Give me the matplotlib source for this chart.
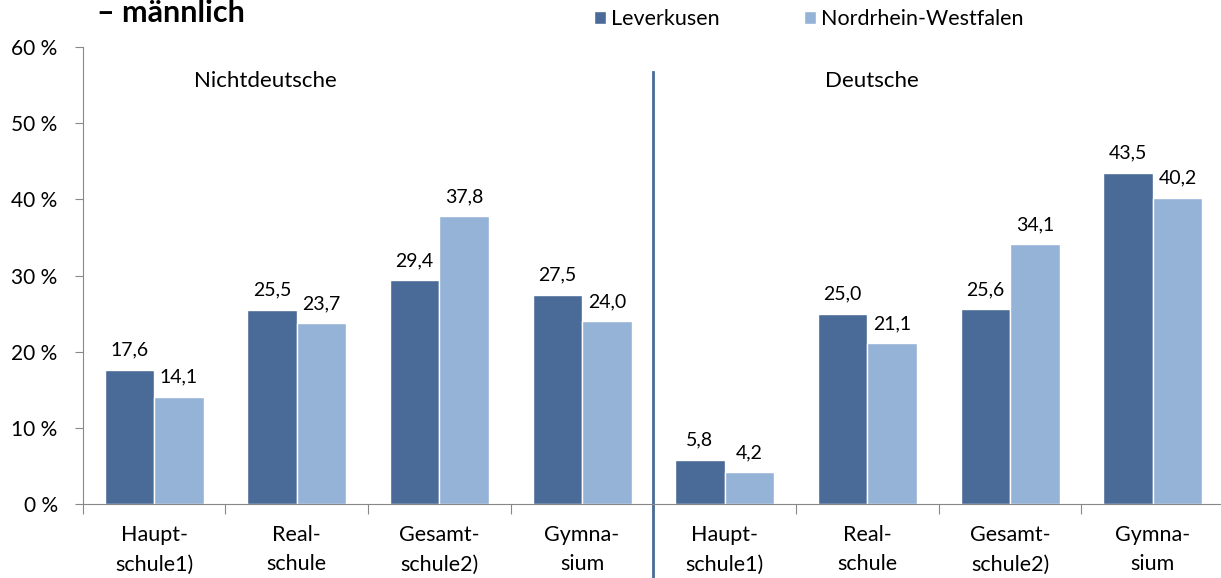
import matplotlib
matplotlib.use("Agg")
import matplotlib.pyplot as plt
import numpy as np

plt.rcParams['font.family'] = ['Lato', 'DejaVu Sans']

categories = ["Haupt-\nschule1)", "Real-\nschule", "Gesamt-\nschule2)", "Gymna-\nsium",
              "Haupt-\nschule1)", "Real-\nschule", "Gesamt-\nschule2)", "Gymna-\nsium"]
leverkusen = [17.6, 25.5, 29.4, 27.5, 5.8, 25.0, 25.6, 43.5]
nrw = [14.1, 23.7, 37.8, 24.0, 4.2, 21.1, 34.1, 40.2]
series_names = ["Leverkusen", "Nordrhein-Westfalen"]
yticks = [0, 10, 20, 30, 40, 50, 60]
group_labels = ["Nichtdeutsche", "Deutsche"]

c_dark = "#4a6b97"
c_light = "#95b3d7"

W, H = 1221, 578
fig = plt.figure(figsize=(W/100, H/100), dpi=100)
left, right, bottom, top = 82.7, 1224, 504, 47
ax = fig.add_axes([left/W, (H-bottom)/H, (right-left)/W, (bottom-top)/H])

x = np.arange(len(categories)) + 0.5
w = 0.347
b1 = ax.bar(x - w/2, leverkusen, w, color=c_dark, edgecolor="white", linewidth=1, label=series_names[0])
b2 = ax.bar(x + w/2, nrw, w, color=c_light, edgecolor="white", linewidth=1, label=series_names[1])

def fmt(v):
    return f"{v:.1f}".replace(".", ",")

for bars, vals in ((b1, leverkusen), (b2, nrw)):
    for r, v in zip(bars, vals):
        ax.annotate(fmt(v), (r.get_x() + r.get_width()/2, v), xytext=(0, 8),
                    textcoords="offset points", ha="center", va="bottom", fontsize=14)

ax.set_xlim(0, 8)
ax.set_ylim(0, 60)
ax.set_yticks(yticks)
ax.set_yticklabels([f"{t} %" for t in yticks], fontsize=15)
ax.set_xticks(np.arange(0, 9))
ax.set_xticklabels([])
ax.set_xticks(x, minor=True)
ax.set_xticklabels(categories, minor=True, fontsize=15.5, linespacing=1.6)
ax.tick_params(axis="x", which="minor", length=0, pad=15)
ax.tick_params(axis="x", which="major", length=7, color="#888888")
ax.tick_params(axis="y", length=6, color="#888888", pad=12)
for s in ("top", "right"):
    ax.spines[s].set_visible(False)
for s in ("left", "bottom"):
    ax.spines[s].set_color("#888888")

ax.plot([4.0, 4.0], [56.7, -9.6], color="#4a6b97", lw=2, clip_on=False)
ax.text(1.28, 55.6, group_labels[0], ha="center", va="center", fontsize=16)
ax.text(5.53, 55.6, group_labels[1], ha="center", va="center", fontsize=16)

fig.text(97/W, 1 - 13/H, "– männlich", fontsize=22, fontweight="bold", ha="left", va="center")

fig.legend(handles=[b1, b2], labels=series_names, loc="center left",
           bbox_to_anchor=(594/W, 1 - 19/H), ncol=2, frameon=False, fontsize=15.5,
           borderpad=0, borderaxespad=0,
           handlelength=0.55, handleheight=0.55, handletextpad=0.25, columnspacing=3.9)

fig.savefig("out.png", dpi=100)
